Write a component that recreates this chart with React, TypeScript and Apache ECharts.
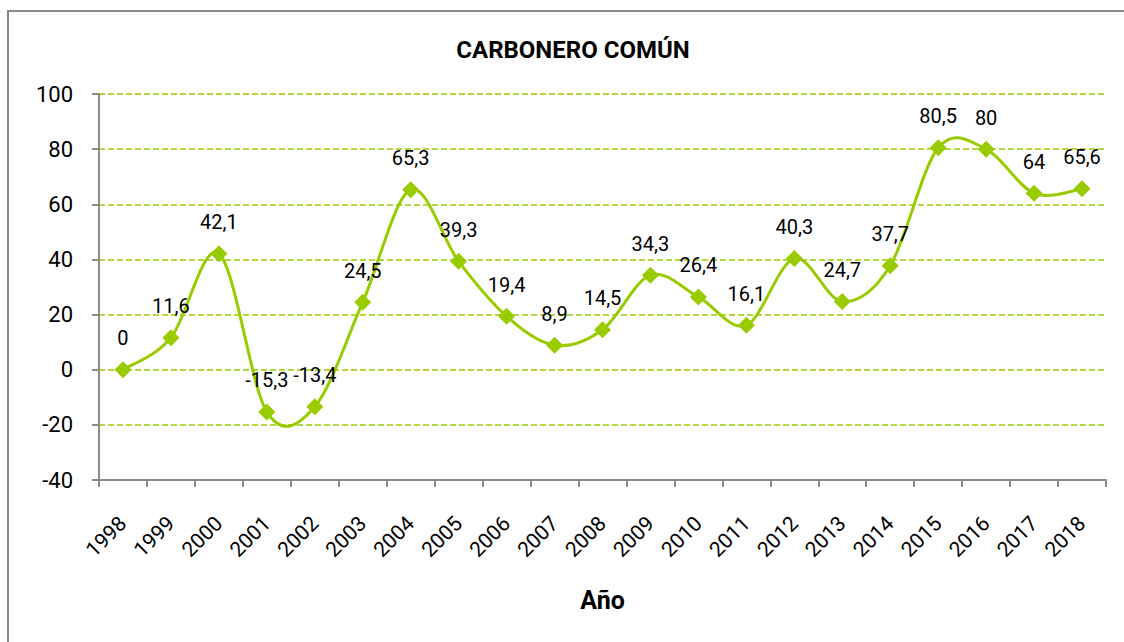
import React, { useEffect, useRef } from "react";
import * as echarts from "echarts";

const years = ["1998","1999","2000","2001","2002","2003","2004","2005","2006","2007","2008","2009","2010","2011","2012","2013","2014","2015","2016","2017","2018"];
const values = [0, 11.6, 42.1, -15.3, -13.4, 24.5, 65.3, 39.3, 19.4, 8.9, 14.5, 34.3, 26.4, 16.1, 40.3, 24.7, 37.7, 80.5, 80, 64, 65.6];
const titleText = "CARBONERO COMÚN";
const xName = "Año";

const FONT = "Roboto";
const GREEN = "#99CC00";

export default function App() {
  const ref = useRef<HTMLDivElement>(null);
  useEffect(() => {
    if (!ref.current) return;
    const chart = echarts.init(ref.current, null, { renderer: "svg" });
    const n = values.length;
    const renderSegment = (params: any, api: any) => {
      const i = params.dataIndex;
      if (i >= n - 1) return null;
      const pt = (k: number) => {
        const kk = Math.max(0, Math.min(n - 1, k));
        return api.coord([kk, values[kk]]);
      };
      const p0 = pt(i - 1);
      const p1 = pt(i);
      const p2 = pt(i + 1);
      const p3 = pt(i + 2);
      const t = 1 / 6;
      return {
        type: "bezierCurve",
        shape: {
          x1: p1[0],
          y1: p1[1],
          x2: p2[0],
          y2: p2[1],
          cpx1: p1[0] + (p2[0] - p0[0]) * t,
          cpy1: p1[1] + (p2[1] - p0[1]) * t,
          cpx2: p2[0] - (p3[0] - p1[0]) * t,
          cpy2: p2[1] - (p3[1] - p1[1]) * t,
        },
        style: { stroke: GREEN, lineWidth: 3, fill: null },
      };
    };
    chart.setOption({
      animation: false,
      backgroundColor: "#ffffff",
      title: {
        text: titleText,
        left: 568,
        top: 33,
        textAlign: "center",
        textStyle: { fontFamily: FONT, fontSize: 24, fontWeight: "bold", color: "#000" },
      },
      graphic: [
        {
          type: "polyline",
          shape: { points: [[8, 642], [8, 11], [1124, 11]] },
          style: { stroke: "#888888", lineWidth: 2, fill: null },
          z: 10,
        },
      ],
      grid: { left: 99, right: 18, top: 94, bottom: 162, containLabel: false },
      xAxis: {
        type: "category",
        data: years,
        boundaryGap: true,
        name: xName,
        nameLocation: "middle",
        nameGap: 108,
        nameTextStyle: { fontFamily: FONT, fontSize: 25, fontWeight: "bold", color: "#000" },
        axisLine: { onZero: false, lineStyle: { color: "#8c8c8c", width: 2 } },
        axisTick: { show: true, alignWithLabel: false, length: 7, lineStyle: { color: "#8c8c8c", width: 2 } },
        axisLabel: {
          rotate: 45,
          margin: 40,
          interval: 0,
          fontFamily: FONT,
          fontSize: 21,
          color: "#000",
        },
        splitLine: { show: false },
      },
      yAxis: {
        type: "value",
        min: -40,
        max: 100,
        interval: 20,
        axisLine: { show: true, lineStyle: { color: "#8c8c8c", width: 2 } },
        axisTick: { show: true, length: 7, lineStyle: { color: "#8c8c8c", width: 2 } },
        axisLabel: { margin: 26, fontFamily: FONT, fontSize: 22, color: "#000" },
        splitLine: { show: true, lineStyle: { color: GREEN, width: 1.5, type: [6, 3] } },
      },
      series: [
        {
          type: "custom",
          data: values.map((v, i) => [i, v]),
          encode: { x: 0, y: 1 },
          renderItem: renderSegment,
          z: 2,
          silent: true,
        },
        {
          type: "line",
          data: values,
          symbol: "diamond",
          symbolSize: 17,
          itemStyle: { color: GREEN },
          lineStyle: { color: GREEN, width: 0, opacity: 0 },
          z: 3,
          label: {
            show: true,
            position: "top",
            distance: 13,
            fontFamily: FONT,
            fontSize: 20,
            color: "#000",
            formatter: (p: any) => String(p.value).replace(".", ","),
          },
        },
      ],
    });
    return () => chart.dispose();
  }, []);
  return <div ref={ref} style={{ position: "absolute", left: 0, top: 0, width: 1124, height: 642 }} />;
}
